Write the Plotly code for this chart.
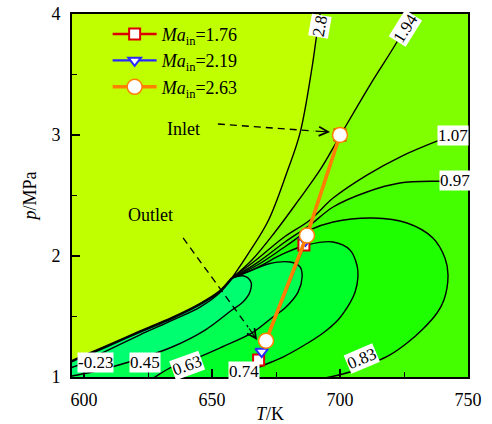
import plotly.graph_objects as go

# ---------------------------------------------------------------------------
# Axis window
T_RANGE = [595.3, 750.0]   # K
P_RANGE = [1.0, 4.0]       # MPa
# bounds just outside the window, used to close the filled bands
T_OUT = [585.0, 765.0]
P_OUT = [0.85, 4.3]

# Saturation boundary, from the critical point towards low temperature
sat_T = [657.8, 652.7, 645.3, 634.4, 621.5, 608.2, 598.0, 595.3, 591.0]
sat_p = [1.818, 1.702, 1.603, 1.488, 1.372, 1.248, 1.157, 1.132, 1.100]

# Isolines, each starting at the critical point
iso_280_T = [657.8, 664.1, 671.9, 679.3, 684.4, 689.1, 691.0, 692.2, 693.1]
iso_280_p = [1.818, 2.017, 2.289, 2.694, 3.017, 3.562, 3.843, 4.000, 4.120]

iso_194_T = [657.8, 665.6, 674.6, 683.6, 692.2, 700.2, 711.7, 722.7, 728.1, 731.1]
iso_194_p = [1.818, 1.967, 2.198, 2.455, 2.711, 3.000, 3.413, 3.785, 4.000, 4.120]

iso_107_T = [657.8, 667.2, 677.7, 688.3, 697.3, 710.5, 723.4, 739.1, 750.0, 756.0]
iso_107_p = [1.818, 1.967, 2.149, 2.298, 2.479, 2.669, 2.818, 2.959, 3.041, 3.090]

iso_097_T = [657.8, 668.0, 678.5, 688.3, 697.3, 710.5, 723.4, 740.2, 750.0, 756.0]
iso_097_p = [1.818, 1.950, 2.116, 2.256, 2.405, 2.529, 2.603, 2.620, 2.628, 2.630]

iso_083_T = [657.8, 668.4, 678.9, 688.3, 697.3, 712.9, 726.2, 736.3, 741.0, 742.2,
             740.6, 737.9, 732.0, 726.2, 719.5, 712.9, 703.9, 696.1, 688.0]
iso_083_p = [1.818, 1.934, 2.083, 2.215, 2.281, 2.314, 2.273, 2.149, 1.983, 1.843,
             1.636, 1.529, 1.388, 1.281, 1.182, 1.116, 1.041, 1.000, 0.970]

iso_074_T = [657.8, 668.0, 677.7, 687.1, 697.3, 703.9, 706.6, 707.0, 705.9, 703.9,
             699.2, 693.4, 685.5, 677.7, 668.75, 660.9, 657.0]
iso_074_p = [1.818, 1.909, 2.017, 2.091, 2.116, 2.050, 1.926, 1.826, 1.702, 1.612,
             1.471, 1.364, 1.256, 1.165, 1.083, 1.000, 0.960]

iso_063_T = [657.8, 664.8, 671.9, 680.5, 684.4, 685.2, 683.6, 678.5, 673.8, 665.6,
             653.9, 644.9, 634.4, 627.7, 624.5]
iso_063_p = [1.818, 1.876, 1.934, 1.950, 1.909, 1.826, 1.702, 1.570, 1.496, 1.364,
             1.248, 1.165, 1.083, 1.000, 0.960]

iso_045_T = [657.8, 662.5, 665.2, 664.8, 662.1, 657.8, 647.3, 634.4, 617.6, 603.1,
             595.3, 591.0]
iso_045_p = [1.818, 1.835, 1.785, 1.702, 1.620, 1.554, 1.388, 1.248, 1.124, 1.041,
             1.008, 0.990]

iso_m023_T = [657.8, 652.7, 645.3, 634.4, 621.5, 608.2, 598.0, 595.3, 591.0]
iso_m023_p = [1.818, 1.690, 1.578, 1.468, 1.345, 1.210, 1.100, 1.080, 1.050]

# Band colours (value decreasing towards the saturation region)
band_colors = ["#9cff00", "#80ff00", "#66ff00", "#44ff00",
               "#1eff00", "#00ff28", "#00ff50", "#00ff70"]
background_color = "#c0ff00"

# Contour labels: text, T, p, angle
label_text = ["2.8", "1.94", "1.07", "0.97", "0.83", "0.74", "0.63", "0.45", "-0.23"]
label_T = [692.0, 725.4, 744.1, 744.9, 708.6, 662.6, 640.2, 623.8, 604.3]
label_p = [3.900, 3.884, 3.000, 2.620, 1.149, 1.046, 1.099, 1.124, 1.124]
label_angle = [-80, -58, 0, 0, -23, 0, -20, 0, 0]

# Expansion paths for three inlet Mach numbers
ma176_T = [700.0, 685.9, 668.2]
ma176_p = [3.00, 2.09, 1.14]
ma219_T = [700.0, 686.5, 669.4]
ma219_p = [3.00, 2.13, 1.21]
ma263_T = [700.0, 687.1, 671.1]
ma263_p = [3.00, 2.17, 1.30]

FONT = "Liberation Serif"

fig = go.Figure()


def band(curve_T, curve_p, exit_side, color):
    """Closed region between the saturation boundary and one isoline."""
    xs = sat_T[::-1] + curve_T[1:]
    ys = sat_p[::-1] + curve_p[1:]
    if exit_side in ("top", "right"):
        xs += [T_OUT[1], T_OUT[1]]
        ys += [curve_p[-1], P_OUT[0]]
    else:
        xs += [curve_T[-1]]
        ys += [P_OUT[0]]
    xs += [T_OUT[0], T_OUT[0]]
    ys += [P_OUT[0], sat_p[-1]]
    fig.add_trace(go.Scatter(
        x=xs, y=ys, mode="lines", fill="toself", fillcolor=color,
        line=dict(width=0, shape="spline", color=color),
        hoverinfo="skip", showlegend=False))


isolines = [
    (iso_280_T, iso_280_p, "top"),
    (iso_194_T, iso_194_p, "top"),
    (iso_107_T, iso_107_p, "right"),
    (iso_097_T, iso_097_p, "right"),
    (iso_083_T, iso_083_p, "bottom"),
    (iso_074_T, iso_074_p, "bottom"),
    (iso_063_T, iso_063_p, "bottom"),
    (iso_045_T, iso_045_p, "bottom"),
]

for (cT, cp, side), col in zip(isolines, band_colors):
    band(cT, cp, side, col)

for cT, cp, _ in isolines + [(iso_m023_T, iso_m023_p, "left")]:
    fig.add_trace(go.Scatter(
        x=cT, y=cp, mode="lines",
        line=dict(color="black", width=1.4, shape="spline"),
        hoverinfo="skip", showlegend=False))

fig.add_trace(go.Scatter(
    x=sat_T, y=sat_p, mode="lines",
    line=dict(color="black", width=2.6, shape="spline"),
    hoverinfo="skip", showlegend=False))

# Expansion paths
fig.add_trace(go.Scatter(
    x=ma176_T, y=ma176_p, mode="lines+markers",
    name="<i>Ma</i><sub>in</sub>=1.76",
    line=dict(color="#dd0000", width=2.4),
    marker=dict(symbol="square", size=11, color="white",
                line=dict(color="#dd0000", width=2))))
fig.add_trace(go.Scatter(
    x=ma219_T, y=ma219_p, mode="lines+markers",
    name="<i>Ma</i><sub>in</sub>=2.19",
    line=dict(color="#2828ff", width=2.4),
    marker=dict(symbol="triangle-down", size=11, color="white",
                line=dict(color="#2828ff", width=2))))
fig.add_trace(go.Scatter(
    x=ma263_T, y=ma263_p, mode="lines+markers",
    name="<i>Ma</i><sub>in</sub>=2.63",
    line=dict(color="#ff8000", width=3.6),
    marker=dict(symbol="circle", size=15, color="white",
                line=dict(color="#ff8000", width=1.5))))

annotations = []
for txt, tx, py, ang in zip(label_text, label_T, label_p, label_angle):
    annotations.append(dict(
        x=tx, y=py, xref="x", yref="y", text=txt, showarrow=False,
        textangle=ang, bgcolor="white", borderpad=0,
        font=dict(family=FONT, size=17, color="black")))

# Inlet / Outlet call-outs
annotations += [
    dict(x=638.9, y=3.05, xref="x", yref="y", text="Inlet", showarrow=False,
         font=dict(family=FONT, size=18, color="black")),
    dict(x=625.8, y=2.339, xref="x", yref="y", text="Outlet", showarrow=False,
         font=dict(family=FONT, size=18, color="black")),
    dict(x=696.1, y=3.025, xref="x", yref="y", ax=-16, ay=-1, text="",
         showarrow=True, arrowhead=5, arrowsize=1.5, arrowwidth=1.2,
         arrowcolor="black"),
    dict(x=667.6, y=1.306, xref="x", yref="y", ax=-9, ay=-13, text="",
         showarrow=True, arrowhead=5, arrowsize=1.5, arrowwidth=1.2,
         arrowcolor="black"),
]

shapes = [
    dict(type="line", xref="x", yref="y", x0=652.3, y0=3.091, x1=689.8, y1=3.033,
         line=dict(color="black", width=1.3, dash="7px,5px")),
    dict(type="line", xref="x", yref="y", x0=638.7, y0=2.149, x1=664.1, y1=1.413,
         line=dict(color="black", width=1.3, dash="7px,5px")),
]

axis_common = dict(
    showline=True, linecolor="black", linewidth=1.6, mirror=True,
    ticks="inside", ticklen=8, tickwidth=1.6, tickcolor="black",
    showgrid=False, zeroline=False, automargin=False,
    tickfont=dict(family=FONT, size=18, color="black"),
    ticklabelstandoff=6,
)

fig.update_layout(
    width=492, height=424,
    margin=dict(l=72, r=24, t=14, b=47),
    paper_bgcolor="white", plot_bgcolor=background_color,
    font=dict(family=FONT, color="black"),
    xaxis=dict(range=T_RANGE, tickvals=[600, 650, 700, 750],
               minor=dict(tickvals=[625, 675, 725], ticks="inside", ticklen=5,
                          tickwidth=1.2, tickcolor="black"),
               title=dict(text="<i>T</i>/K", standoff=2,
                          font=dict(family=FONT, size=18, color="black")),
               **axis_common),
    yaxis=dict(range=P_RANGE, tickvals=[1, 2, 3, 4],
               minor=dict(tickvals=[1.5, 2.5, 3.5], ticks="inside", ticklen=5,
                          tickwidth=1.2, tickcolor="black"),
               title=dict(text="<i>p</i>/MPa", standoff=10,
                          font=dict(family=FONT, size=18, color="black")),
               **axis_common),
    legend=dict(x=0.09, y=0.995, xanchor="left", yanchor="top",
                bgcolor="rgba(0,0,0,0)", borderwidth=0, itemwidth=44,
                font=dict(family=FONT, size=18, color="black"),
                tracegroupgap=0),
    annotations=annotations,
    shapes=shapes,
)

fig.write_html("out.html")
